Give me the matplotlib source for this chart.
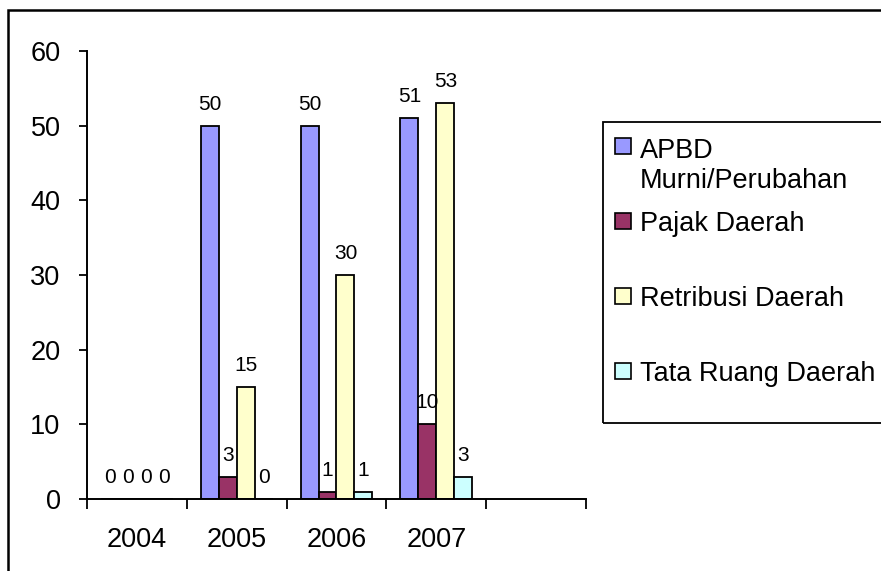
import numpy as np
import matplotlib
matplotlib.use('Agg')
import matplotlib.pyplot as plt
from matplotlib.patches import Rectangle

# data
years = ['2004', '2005', '2006', '2007', '']
seriesNames = ['APBD\nMurni/Perubahan', 'Pajak Daerah', 'Retribusi Daerah', 'Tata Ruang Daerah']
apbd = [0, 50, 50, 51]
pajak = [0, 3, 1, 10]
retribusi = [0, 15, 30, 53]
tataRuang = [0, 0, 1, 3]
yTicks = [0, 10, 20, 30, 40, 50, 60]

seriesValues = [apbd, pajak, retribusi, tataRuang]
seriesColors = ['#9999FF', '#993366', '#FFFFCC', '#CCFFFF']

plt.rcParams['font.family'] = ['Liberation Sans', 'DejaVu Sans']

W, H = 881, 571
fig = plt.figure(figsize=(W / 100, H / 100), dpi=100)
ax = fig.add_axes([87 / W, 1 - 499 / H, (586 - 87) / W, (499 - 51) / H])

barWidth = 0.18
offsets = [-1.5 * barWidth, -0.5 * barWidth, 0.5 * barWidth, 1.5 * barWidth]

for values, color, off in zip(seriesValues, seriesColors, offsets):
    xs = np.arange(len(values)) + off
    ax.bar(xs, values, width=barWidth, color=color, edgecolor='black', linewidth=1.3)
    for x, v in zip(xs, values):
        ax.annotate(str(v), (x, v), xytext=(0, 11.5), textcoords='offset points',
                    ha='center', va='baseline', fontsize=15)

# axes
ax.set_xlim(-0.5, len(years) - 0.5)
ax.set_ylim(0, 60)
ax.set_yticks(yTicks)
ax.tick_params(axis='y', direction='out', length=6, width=1.3, pad=13, labelsize=19.5)

# ticks between the categories, labels in the middle
ax.set_xticks(np.arange(len(years) + 1) - 0.5)
ax.set_xticklabels([])
ax.set_xticks(np.arange(len(years)), minor=True)
ax.set_xticklabels(years, minor=True)
ax.tick_params(axis='x', which='major', direction='out', length=7, width=1.3)
ax.tick_params(axis='x', which='minor', length=0, pad=20, labelsize=19.5)

for side in ['top', 'right']:
    ax.spines[side].set_visible(False)
for side in ['left', 'bottom']:
    ax.spines[side].set_linewidth(1.4)

# outer chart border
fig.add_artist(Rectangle((8 / W, -0.05), 1.1, 1.05 - 10 / H, transform=fig.transFigure,
                         fill=False, edgecolor='black', linewidth=1.8, clip_on=False))

# legend box, drawn by hand like the excel one
fig.add_artist(Rectangle((603 / W, 1 - 423 / H), 1.0, (423 - 122) / H, transform=fig.transFigure,
                         fill=False, edgecolor='black', linewidth=1.3, clip_on=False))
legendFont = 19.5
lineStep = 1.2 * legendFont * 100 / 72
for i, (name, color) in enumerate(zip(seriesNames, seriesColors)):
    yCenter = 146 + 75 * i
    fig.add_artist(Rectangle((615 / W, 1 - (yCenter + 8) / H), 16 / W, 16 / H,
                             transform=fig.transFigure, facecolor=color,
                             edgecolor='black', linewidth=1.2))
    # baseline of a multi-line text is the one of its last line
    extraLines = name.count('\n')
    fig.text(640 / W, 1 - (yCenter + 10 + extraLines * lineStep) / H, name,
             ha='left', va='baseline', fontsize=legendFont, linespacing=1.2)

fig.savefig('out.png', dpi=100)
